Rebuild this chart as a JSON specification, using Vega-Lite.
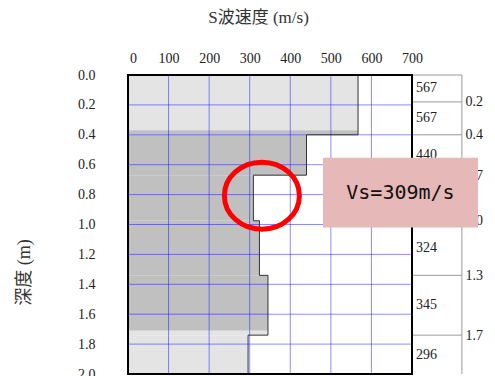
{
  "$schema": "https://vega.github.io/schema/vega-lite/v6.json",
  "autosize": {"type": "none"},
  "padding": {"left": 128, "top": 75, "right": 83, "bottom": 2},
  "width": 284,
  "height": 299,
  "background": "white",
  "config": {"view": {"stroke": null}},
  "datasets": {
    "shade": [
      {"top": 0, "bottom": 0.37, "vs": 567, "tone": "light"},
      {"top": 0.37, "bottom": 0.4, "vs": 567, "tone": "dark"},
      {"top": 0.4, "bottom": 0.67, "vs": 440, "tone": "dark"},
      {"top": 0.67, "bottom": 0.975, "vs": 309, "tone": "dark"},
      {"top": 0.975, "bottom": 1.34, "vs": 324, "tone": "dark"},
      {"top": 1.34, "bottom": 1.71, "vs": 345, "tone": "dark"},
      {"top": 1.71, "bottom": 1.74, "vs": 345, "tone": "light"},
      {"top": 1.74, "bottom": 2.0, "vs": 296, "tone": "light"}
    ],
    "profile": [
      {"i": 0, "vs": 567, "depth": 0},
      {"i": 1, "vs": 567, "depth": 0.4},
      {"i": 2, "vs": 440, "depth": 0.4},
      {"i": 3, "vs": 440, "depth": 0.67},
      {"i": 4, "vs": 309, "depth": 0.67},
      {"i": 5, "vs": 309, "depth": 0.975},
      {"i": 6, "vs": 324, "depth": 0.975},
      {"i": 7, "vs": 324, "depth": 1.34},
      {"i": 8, "vs": 345, "depth": 1.34},
      {"i": 9, "vs": 345, "depth": 1.74},
      {"i": 10, "vs": 296, "depth": 1.74},
      {"i": 11, "vs": 296, "depth": 2.0}
    ],
    "layers": [
      {"id": 1, "top": 0, "bottom": 0.18, "vs": 567},
      {"id": 2, "top": 0.18, "bottom": 0.4, "vs": 567},
      {"id": 3, "top": 0.4, "bottom": 0.67, "vs": 440},
      {"id": 4, "top": 0.67, "bottom": 0.975, "vs": 309},
      {"id": 5, "top": 0.975, "bottom": 1.34, "vs": 324},
      {"id": 6, "top": 1.34, "bottom": 1.74, "vs": 345},
      {"id": 7, "top": 1.74, "bottom": 2.0, "vs": 296}
    ],
    "gridx": [{"v": 100}, {"v": 200}, {"v": 300}, {"v": 400}, {"v": 500}, {"v": 600}],
    "gridy": [{"d": 0.2}, {"d": 0.4}, {"d": 0.6}, {"d": 0.8}, {"d": 1.0}, {"d": 1.2}, {"d": 1.4}, {"d": 1.6}, {"d": 1.8}],
    "marker": [{"vs": 330, "depth": 0.807}],
    "note": [{"x1": 480.6, "x2": 862.7, "top": 0.553, "bottom": 1.02, "cx": 671.6, "cy": 0.789, "label": "Vs=309m/s"}]
  },
  "resolve": {"axis": {"x": "independent", "y": "independent"}},
  "layer": [
    {
      "data": {"name": "shade"},
      "mark": {"type": "rect"},
      "encoding": {
        "x": {
          "field": "vs", "type": "quantitative",
          "scale": {"domain": [0, 700], "nice": false},
          "axis": {
            "orient": "top",
            "values": [0, 100, 200, 300, 400, 500, 600, 700],
            "ticks": false, "tickSize": 0, "domain": false, "grid": false,
            "labelFlush": false, "labelOverlap": false,
            "labelFont": "Liberation Serif", "labelFontSize": 14, "labelColor": "#222222",
            "labelPadding": 10,
            "labelOffset": {"condition": {"test": "datum.value === 0", "value": 5}, "value": 0},
            "title": "S波速度 (m/s)",
            "titleFont": "Liberation Serif, Noto Sans CJK JP", "titleFontSize": 17, "titleFontWeight": "normal", "titleColor": "#333333",
            "titleX": 130, "titleAlign": "center",
            "titleY": -58, "titleBaseline": "middle"
          }
        },
        "x2": {"datum": 0},
        "y": {
          "field": "top", "type": "quantitative",
          "scale": {"domain": [0, 2], "reverse": true, "nice": false},
          "axis": {
            "orient": "left",
            "values": [0, 0.2, 0.4, 0.6, 0.8, 1.0, 1.2, 1.4, 1.6, 1.8, 2.0],
            "format": ".1f",
            "ticks": false, "tickSize": 0, "domain": false, "grid": false,
            "labelOverlap": false, "labelFlush": false,
            "labelFont": "Liberation Serif", "labelFontSize": 14, "labelColor": "#222222",
            "labelPadding": 33,
            "title": "深度 (m)",
            "titleFont": "Liberation Serif, Noto Sans CJK JP", "titleFontSize": 18, "titleFontWeight": "normal", "titleColor": "#333333",
            "titleX": -104, "titleY": 197, "titleAngle": 270, "titleBaseline": "middle", "titleAlign": "center"
          }
        },
        "y2": {"field": "bottom"},
        "color": {
          "field": "tone", "type": "nominal",
          "scale": {"domain": ["light", "dark"], "range": ["#e4e4e4", "#c0c0c0"]},
          "legend": null
        }
      }
    },
    {
      "data": {"name": "gridx"},
      "mark": {"type": "rule", "color": "#0000ff", "opacity": 0.45, "strokeWidth": 1},
      "encoding": {
        "x": {"field": "v", "type": "quantitative", "scale": {"domain": [0, 700], "nice": false}, "axis": null}
      }
    },
    {
      "data": {"name": "gridy"},
      "mark": {"type": "rule", "color": "#0000ff", "opacity": 0.45, "strokeWidth": 1},
      "encoding": {
        "y": {"field": "d", "type": "quantitative", "scale": {"domain": [0, 2], "reverse": true, "nice": false}, "axis": null}
      }
    },
    {
      "data": {"name": "profile"},
      "mark": {"type": "line", "color": "#333333", "strokeWidth": 1},
      "encoding": {
        "x": {"field": "vs", "type": "quantitative", "scale": {"domain": [0, 700], "nice": false}, "axis": null},
        "y": {"field": "depth", "type": "quantitative", "scale": {"domain": [0, 2], "reverse": true, "nice": false}, "axis": null},
        "order": {"field": "i"}
      }
    },
    {
      "data": {"name": "layers"},
      "mark": {"type": "rule", "color": "#999999", "strokeWidth": 1},
      "encoding": {
        "x": {"datum": 700, "type": "quantitative", "scale": {"domain": [0, 700], "nice": false}, "axis": null},
        "x2": {"datum": 823},
        "y": {
          "field": "top", "type": "quantitative",
          "scale": {"domain": [0, 2], "reverse": true, "nice": false},
          "axis": {
            "orient": "right", "offset": 50,
            "values": [0.18, 0.4, 0.67, 0.975, 1.34, 1.74],
            "format": ".1f",
            "ticks": false, "tickSize": 0, "domain": false, "grid": false,
            "labelOverlap": false, "labelFlush": false,
            "labelFont": "Liberation Serif", "labelFontSize": 14, "labelColor": "#222222",
            "labelPadding": 3,
            "title": null
          }
        }
      }
    },
    {
      "data": {"values": [{"edge": 823}]},
      "mark": {"type": "rule", "color": "#999999", "strokeWidth": 1},
      "encoding": {
        "x": {"field": "edge", "type": "quantitative", "scale": {"domain": [0, 700], "nice": false}, "axis": null}
      }
    },
    {
      "data": {"name": "layers"},
      "transform": [
        {"filter": "datum.id != 4"},
        {"fold": ["top", "bottom"], "as": ["edge", "d"]},
        {"aggregate": [{"op": "mean", "field": "d", "as": "mid"}], "groupby": ["id", "vs"]}
      ],
      "mark": {"type": "text", "align": "left", "baseline": "middle", "dx": 4, "font": "Liberation Serif", "fontSize": 14, "color": "#222222"},
      "encoding": {
        "x": {"datum": 700, "type": "quantitative", "scale": {"domain": [0, 700], "nice": false}, "axis": null},
        "y": {"field": "mid", "type": "quantitative", "scale": {"domain": [0, 2], "reverse": true, "nice": false}, "axis": null},
        "text": {"field": "vs", "type": "quantitative"}
      }
    },
    {
      "data": {"values": [{"a": 0, "b": 700, "t": 0, "u": 2}]},
      "mark": {"type": "rect", "fill": "transparent", "stroke": "#000000", "strokeWidth": 2},
      "encoding": {
        "x": {"field": "a", "type": "quantitative", "scale": {"domain": [0, 700], "nice": false}, "axis": null},
        "x2": {"field": "b"},
        "y": {"field": "t", "type": "quantitative", "scale": {"domain": [0, 2], "reverse": true, "nice": false}, "axis": null},
        "y2": {"field": "u"}
      }
    },
    {
      "data": {"name": "marker"},
      "mark": {"type": "point", "shape": "M-1,0A1,0.893 0 1,1 1,0A1,0.893 0 1,1 -1,0Z", "size": 5625, "filled": false, "stroke": "#ff0000", "strokeWidth": 5, "opacity": 1, "strokeOpacity": 1},
      "encoding": {
        "x": {"field": "vs", "type": "quantitative", "scale": {"domain": [0, 700], "nice": false}, "axis": null},
        "y": {"field": "depth", "type": "quantitative", "scale": {"domain": [0, 2], "reverse": true, "nice": false}, "axis": null}
      }
    },
    {
      "data": {"name": "note"},
      "mark": {"type": "rect", "fill": "#e6b8b7"},
      "encoding": {
        "x": {"field": "x1", "type": "quantitative", "scale": {"domain": [0, 700], "nice": false}, "axis": null},
        "x2": {"field": "x2"},
        "y": {"field": "top", "type": "quantitative", "scale": {"domain": [0, 2], "reverse": true, "nice": false}, "axis": null},
        "y2": {"field": "bottom"}
      }
    },
    {
      "data": {"name": "note"},
      "mark": {"type": "text", "align": "center", "baseline": "middle", "font": "DejaVu Sans Mono", "fontSize": 20, "color": "#111111"},
      "encoding": {
        "x": {"field": "cx", "type": "quantitative", "scale": {"domain": [0, 700], "nice": false}, "axis": null},
        "y": {"field": "cy", "type": "quantitative", "scale": {"domain": [0, 2], "reverse": true, "nice": false}, "axis": null},
        "text": {"field": "label"}
      }
    }
  ]
}
